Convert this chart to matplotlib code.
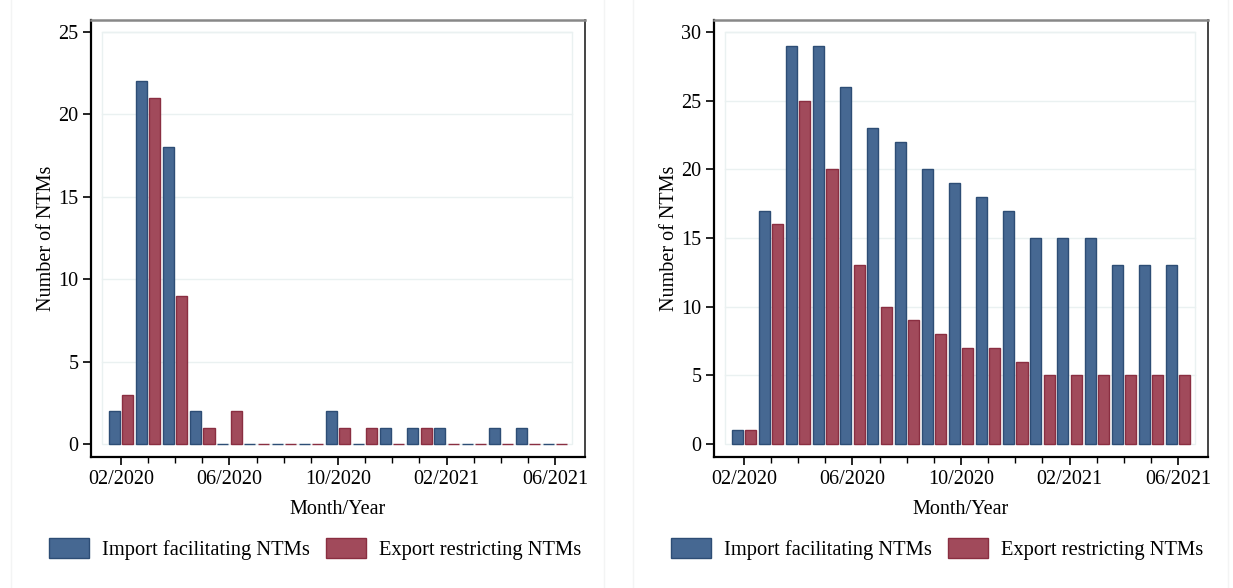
import matplotlib
matplotlib.use('Agg')
from matplotlib import pyplot as plt
from matplotlib.patches import Patch, Rectangle
import numpy as np

months = ['02/2020', '03/2020', '04/2020', '05/2020', '06/2020', '07/2020',
          '08/2020', '09/2020', '10/2020', '11/2020', '12/2020', '01/2021',
          '02/2021', '03/2021', '04/2021', '05/2021', '06/2021']

# left panel: new measures per month
import_new = [2, 22, 18, 2, 0, 0, 0, 0, 2, 0, 1, 1, 1, 0, 1, 1, 0]
export_new = [3, 21, 9, 1, 2, 0, 0, 0, 1, 1, 0, 1, 0, 0, 0, 0, 0]

# right panel: measures in force per month
import_active = [1, 17, 29, 29, 26, 23, 22, 20, 19, 18, 17, 15, 15, 15, 13, 13, 13]
export_active = [1, 16, 25, 20, 13, 10, 9, 8, 7, 7, 6, 5, 5, 5, 5, 5, 5]

BLUE = '#466892'
BLUE_EDGE = '#2d4d75'
RED = '#a14a5b'
RED_EDGE = '#8a2e41'
GRID = '#eaf1f1'

plt.rcParams['font.family'] = ['Liberation Serif', 'DejaVu Serif']
plt.rcParams['font.size'] = 14.5

fig = plt.figure(figsize=(12.33, 5.88), dpi=100)

# faint graph region borders
for x0, x1 in [(11, 604), (633, 1228)]:
    fig.patches.append(Rectangle((x0 / 1233, -0.01), (x1 - x0) / 1233, 1.02,
                                 transform=fig.transFigure, fill=False,
                                 edgecolor='#f3f4f4', linewidth=1.0))


def draw_panel(ax, imp, exp, ymax, ystep):
    x = np.arange(len(months))
    ax.bar(x - 0.245, imp, width=0.41, color=BLUE, edgecolor=BLUE_EDGE, linewidth=1.0, zorder=3)
    ax.bar(x + 0.245, exp, width=0.41, color=RED, edgecolor=RED_EDGE, linewidth=1.0, zorder=3)
    ax.set_xlim(-1.1, 17.1)
    pad = ymax * 0.031
    ax.set_ylim(-ymax * 0.0315, ymax + pad * 0.94)
    ax.set_yticks(np.arange(0, ymax + 1, ystep))
    for yv in np.arange(ystep, ymax + 1, ystep):
        ax.plot([-0.68, 16.62], [yv, yv], color=GRID, linewidth=1.0, zorder=1)
    ax.add_patch(Rectangle((-0.68, 0), 17.3, ymax, fill=False, edgecolor=GRID,
                           linewidth=1.0, zorder=1))
    ax.set_xticks(x[::4])
    ax.set_xticklabels(months[::4])
    ax.set_xticks(x, minor=True)
    ax.tick_params(axis='x', which='major', length=6, width=1.2, pad=3)
    ax.tick_params(axis='x', which='minor', length=4, width=1.0)
    ax.tick_params(axis='y', length=6, width=1.2, pad=3)
    ax.set_xlabel('Month/Year', labelpad=8)
    ax.set_ylabel('Number of NTMs', labelpad=2)
    ax.spines['left'].set_linewidth(1.6)
    ax.spines['bottom'].set_linewidth(1.6)
    ax.spines['top'].set_color('#888888')
    ax.spines['top'].set_linewidth(1.8)
    ax.spines['right'].set_color('#444444')
    ax.spines['right'].set_linewidth(1.4)


ax1 = fig.add_axes([91 / 1233, 1 - 457 / 588, 494 / 1233, 437 / 588])
draw_panel(ax1, import_new, export_new, 25, 5)
ax2 = fig.add_axes([714 / 1233, 1 - 457 / 588, 494 / 1233, 437 / 588])
draw_panel(ax2, import_active, export_active, 30, 5)

handles = [Patch(facecolor=BLUE, edgecolor=BLUE_EDGE, label='Import facilitating NTMs'),
           Patch(facecolor=RED, edgecolor=RED_EDGE, label='Export restricting NTMs')]
for cx in [315 / 1233, 937 / 1233]:
    fig.legend(handles=handles, loc='center', bbox_to_anchor=(cx, 1 - 549 / 588),
               ncol=2, frameon=False, handlelength=1.98, handleheight=1.14,
               handletextpad=0.62, columnspacing=0.76, fontsize=14.8)

fig.savefig('out.png', dpi=100)
